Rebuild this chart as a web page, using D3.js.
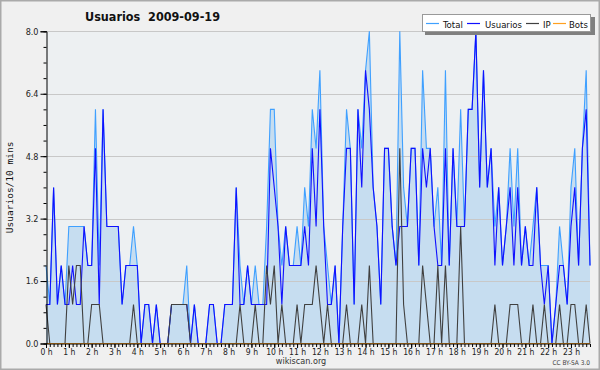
<!DOCTYPE html>
<html><head><meta charset="utf-8">
<script src="https://cdn.jsdelivr.net/npm/d3@7"></script>
<style>
html,body{margin:0;padding:0;background:#f0f0f0;}
svg{display:block;}
</style></head>
<body>
<svg id="chart" width="600" height="370"></svg>
<script>
// ---- data (10-minute slots, 144 per day) ----
const total = [2,1,4,1,2,1,3,3,3,3, 3,2,2,6,2,6,3,3,3,3, 1,2,2,3,2,0,1,1,0,1, 0,0,0,1,1,1,1,2,0,1,
  0,0,0,1,1,0,0,1,1,1, 4,2,1,2,1,2,1,1,3,6, 6,3,2,3,2,2,3,2,4,3, 6,5,7,3,2,1,2,0,3,6,
  5,1,6,5,7,8,4,3,1,5, 5,3,2,8,4,3,5,5,2,7, 5,5,3,4,2,7,2,5,3,6, 3,6,6,8,4,7,4,5,3,4,
  2,3,5,3,5,2,3,2,3,4, 2,2,2,0,1,3,2,1,4,5, 2,5,7,2];
const usuarios = [1,1,4,1,2,1,1,2,1,1, 3,2,2,5,1,6,3,3,3,3, 1,2,2,2,2,0,1,1,0,1, 0,0,0,1,1,1,1,1,0,1,
  0,0,0,1,1,0,0,1,1,1, 4,1,1,2,1,1,1,1,1,5, 4,3,1,3,2,2,2,2,3,2, 5,3,6,3,1,1,2,0,3,5,
  5,1,6,4,7,6,4,3,1,5, 5,3,2,3,3,3,5,5,2,5, 4,5,3,2,2,5,2,5,3,3, 3,6,6,8,4,7,4,5,2,4,
  2,3,4,2,4,2,3,2,2,4, 2,1,2,0,1,2,2,1,3,4, 2,5,6,2];
const ip = [1,0,0,0,0,0,2,1,2,2, 0,0,1,1,1,0,0,0,0,0, 0,0,0,1,0,0,0,0,0,0, 0,0,0,1,1,1,1,1,0,0,
  0,0,0,0,0,0,0,0,0,0, 0,1,0,0,0,1,0,0,2,1, 2,0,1,0,0,0,1,0,1,1, 1,2,1,0,1,0,0,0,0,1,
  0,0,0,1,0,2,0,0,0,0, 0,0,0,5,1,0,0,0,0,2, 1,0,0,2,0,2,0,0,0,3, 0,0,0,0,0,0,0,0,1,0,
  0,0,1,1,1,0,0,0,1,0, 0,1,0,0,0,1,0,0,1,1, 0,0,1,0];
const bots = new Array(144).fill(0);
const yTicks = [0, 1.6, 3.2, 4.8, 6.4, 8.0];
const hourLabels = d3.range(24).map(h => h + " h");
const seriesNames = ["Total", "Usuarios", "IP", "Bots"];
const seriesColors = ["#3fa0ff", "#1010ff", "#404040", "#ffa020"];
const titleText = "Usuarios  2009-09-19";
const yLabel = "Usuarios/10 mins";

// ---- drawing ----
const svg = d3.select("#chart");
const W = 600, H = 370;
const L = 46, R = 590, T = 31.3, B = 343.5;
const condensed = "'DejaVu Sans Condensed','Liberation Sans Narrow','Liberation Sans',sans-serif";

svg.append("rect").attr("x",0.5).attr("y",0.5).attr("width",W-1).attr("height",H-1)
  .attr("fill","#f0f0f0").attr("stroke","#aaaaaa").attr("stroke-width",2);

const x = d3.scaleLinear().domain([0, 143]).range([L, R]);
const y = d3.scaleLinear().domain([0, 8]).range([B, T]);

svg.append("rect").attr("x",L).attr("y",T).attr("width",R-L).attr("height",B-T).attr("fill","#edf0f2");

// area under total
svg.append("path").datum(total)
  .attr("d", d3.area().x((d,i)=>x(i)).y0(y(0)).y1(d=>y(d)))
  .attr("fill","#c6ddf0");

// grid
svg.append("g").selectAll("line").data(yTicks.slice(1)).join("line")
  .attr("x1",L).attr("x2",R).attr("y1",d=>Math.round(y(d))+0.5).attr("y2",d=>Math.round(y(d))+0.5)
  .attr("stroke","#c8c8c8").attr("stroke-width",1);

// lines
const line = d3.line().x((d,i)=>x(i)).y(d=>y(d));
[[total,0],[usuarios,1],[ip,2],[bots,3]].forEach(([arr,k])=>{
  svg.append("path").datum(arr).attr("d",line).attr("fill","none")
    .attr("stroke",seriesColors[k]).attr("stroke-width",1.1).attr("stroke-linejoin","miter");
});

// y axis
const yAxis = d3.axisLeft(y).tickValues(yTicks).tickFormat(d3.format(".1f")).tickSize(6).tickPadding(2);
const gy = svg.append("g").attr("transform",`translate(${L+0.5},0)`).call(yAxis);
gy.select(".domain").attr("stroke","#000");
gy.selectAll("text").attr("font-family",condensed).attr("font-size","9px").attr("fill","#222");
// minor y ticks
const gyMinor = svg.append("g").attr("transform",`translate(${L+0.5},0)`)
  .call(d3.axisLeft(y).tickValues(d3.range(0,8.01,0.4)).tickSize(3).tickFormat(""));
gyMinor.select(".domain").remove();

// x axis
const xAxis = d3.axisBottom(x).tickValues(d3.range(0,144,6)).tickFormat((d,i)=>hourLabels[i]).tickSize(4).tickPadding(1);
const gx = svg.append("g").attr("transform",`translate(0,${B+0.5})`).call(xAxis);
gx.select(".domain").attr("stroke","#000").attr("d",`M${L},0H${R}`);
gx.selectAll("text").attr("font-family",condensed).attr("font-size","8.5px").attr("fill","#222");
const gxMinor = svg.append("g").attr("transform",`translate(0,${B+0.5})`)
  .call(d3.axisBottom(x).tickValues(d3.range(0,144,1)).tickSize(3).tickFormat(""));
gxMinor.select(".domain").remove();

// title
svg.append("text").attr("x",85).attr("y",21).text(titleText)
  .attr("font-family",condensed).attr("font-weight","bold")
  .attr("font-size","12.5px").attr("fill","#111").style("white-space","pre");

// y label
svg.append("text").attr("transform",`translate(13,${(T+B)/2}) rotate(-90)`).attr("text-anchor","middle")
  .text(yLabel).attr("font-family","'DejaVu Sans Mono', monospace").attr("font-size","9.5px").attr("fill","#111");

// bottom texts
svg.append("text").attr("x",301).attr("y",364).attr("text-anchor","middle").text("wikiscan.org")
  .attr("font-family",condensed).attr("font-size","9px").attr("fill","#333");
svg.append("text").attr("x",590).attr("y",365).attr("text-anchor","end").text("CC BY-SA 3.0")
  .attr("font-family",condensed).attr("font-size","6.5px").attr("fill","#444");

// legend
const lg = svg.append("g");
lg.append("rect").attr("x",425).attr("y",17).attr("width",170).attr("height",18).attr("fill","#808080");
lg.append("rect").attr("x",422.5).attr("y",14.5).attr("width",168).attr("height",17).attr("fill","#fff").attr("stroke","#999");
const lgItems = [
  {lx:426, tx:443},
  {lx:467, tx:485},
  {lx:526, tx:543},
  {lx:553, tx:569}
];
lgItems.forEach((it,k)=>{
  lg.append("line").attr("x1",it.lx).attr("x2",it.lx+13).attr("y1",23.5).attr("y2",23.5)
    .attr("stroke",seriesColors[k]).attr("stroke-width",1.2);
  lg.append("text").attr("x",it.tx).attr("y",27.5).text(seriesNames[k])
    .attr("font-family",condensed).attr("font-size","9.5px").attr("fill","#111");
});
</script>
</body></html>
